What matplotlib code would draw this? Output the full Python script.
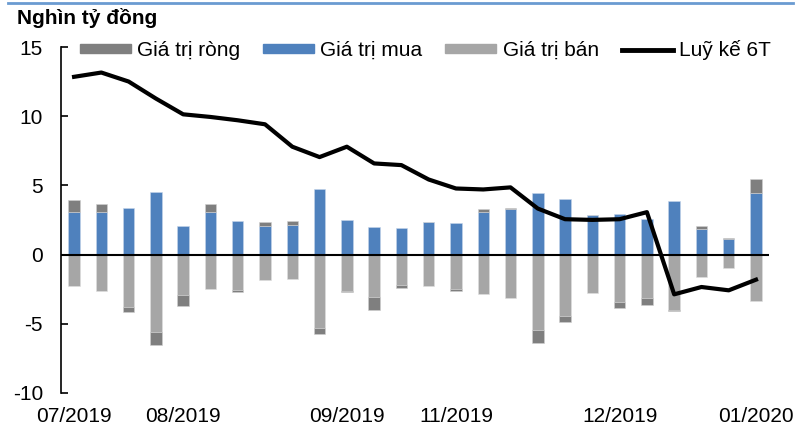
import matplotlib.pyplot as plt
import numpy as np
from matplotlib.lines import Line2D
from matplotlib.patches import Patch

plt.rcParams['font.family'] = ['Liberation Sans', 'DejaVu Sans']
plt.rcParams['axes.unicode_minus'] = False

labels = ['07/2019', '', '', '', '08/2019', '', '', '', '', '', '09/2019', '', '', '',
          '11/2019', '', '', '', '', '', '12/2019', '', '', '', '', '01/2020']
buy = [3.10, 3.10, 3.39, 4.50, 2.04, 3.05, 2.43, 2.09, 2.12, 4.74, 2.48, 2.02, 1.92,
       2.33, 2.28, 3.05, 3.27, 4.45, 3.99, 2.86, 2.91, 2.57, 3.89, 1.88, 1.11, 4.42]
sell = [-2.28, -2.62, -3.80, -5.58, -2.91, -2.50, -2.55, -1.80, -1.78, -5.29, -2.62, -3.05, -2.21,
        -2.28, -2.48, -2.84, -3.13, -5.43, -4.45, -2.76, -3.41, -3.10, -3.99, -1.63, -0.99, -3.37]
net = [0.84, 0.53, -0.36, -0.96, -0.77, 0.58, -0.14, 0.24, 0.31, -0.46, -0.10, -0.96, -0.22,
       0.0, -0.12, 0.22, 0.10, -0.96, -0.43, 0.0, -0.48, -0.53, -0.05, 0.19, 0.07, 1.01]
cum = [12.85, 13.16, 12.51, 11.28, 10.14, 9.95, 9.71, 9.42, 7.80, 7.05, 7.80, 6.59, 6.47,
       5.43, 4.78, 4.71, 4.86, 3.33, 2.56, 2.51, 2.56, 3.07, -2.87, -2.34, -2.58, -1.81]

c_net, c_buy, c_sell = '#7f7f7f', '#4f81bd', '#a6a6a6'

x = np.arange(len(labels))
buy = np.array(buy)
sell = np.array(sell)
net = np.array(net)
net_base = np.where(net >= 0, buy, sell)

fig = plt.figure(figsize=(7.97, 4.28), dpi=100)
ax = fig.add_axes([0.0765, 0.0818, 0.8885, 0.8082])

w = 0.42
ax.bar(x, buy, w, color=c_buy, edgecolor='#c5d5ea', linewidth=0.4, zorder=2)
ax.bar(x, sell, w, color=c_sell, edgecolor='#e0e0e0', linewidth=0.4, zorder=2)
ax.bar(x, net, w, bottom=net_base, color=c_net, edgecolor='#d0d0d0', linewidth=0.4, zorder=2)
ax.axhline(0, color='black', lw=1.5, zorder=3)
ax.plot(x, cum, color='black', lw=3, solid_joinstyle='round', zorder=4)

ax.set_xlim(-0.48, 25.48)
ax.set_ylim(-10, 15)
ax.set_yticks([-10, -5, 0, 5, 10, 15])
ax.set_xticks(x)
ax.set_xticklabels(labels)
ax.tick_params(axis='x', length=0, pad=10, labelsize=15)
ax.tick_params(axis='y', direction='in', length=5, width=1.2, pad=13, labelsize=15)
for s in ['top', 'right', 'bottom']:
    ax.spines[s].set_visible(False)
ax.spines['left'].set_linewidth(1.2)

handles = [Patch(color=c_net), Patch(color=c_buy), Patch(color=c_sell),
           Line2D([], [], color='black', lw=3.5)]
fig.legend(handles, ['Giá trị ròng', 'Giá trị mua', 'Giá trị bán', 'Luỹ kế 6T'],
           ncol=4, frameon=False, loc='center left', bbox_to_anchor=(0.1, 0.883),
           fontsize=15, handlelength=2.45, handleheight=0.3, handletextpad=0.3,
           columnspacing=1.1, borderpad=0, borderaxespad=0)

fig.text(0.021, 0.957, 'Nghìn tỷ đồng', fontsize=15, fontweight='bold', va='center')
fig.add_artist(Line2D([0.01, 0.995], [0.993, 0.993], color='#6a9bd1', lw=2))

fig.savefig('out.png', dpi=100)
